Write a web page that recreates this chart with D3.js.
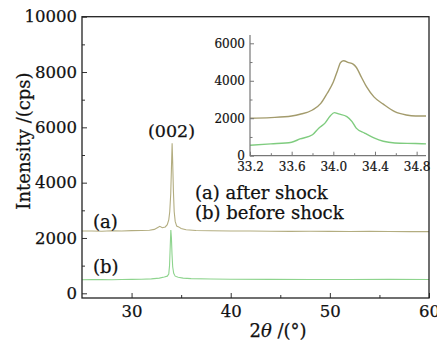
<!DOCTYPE html>
<html>
<head>
<meta charset="utf-8">
<script src="https://cdn.jsdelivr.net/npm/d3@7"></script>
<style>
  html, body { margin: 0; padding: 0; background: #fff; }
  svg { display: block; }
  text { font-family: "DejaVu Serif", serif; fill: #111; }
</style>
</head>
<body>
<svg id="chart" width="437" height="344"></svg>
<script>
// ---- Main pattern data (2θ in degrees, intensity in cps) ----
const afterX  = [25, 26, 27, 28, 29, 30, 31, 31.8, 32.3, 32.6, 32.85, 33.1, 33.4, 33.6, 33.75, 33.85, 33.95, 34.02, 34.09, 34.15, 34.22, 34.3, 34.4, 34.55, 34.75, 35.0, 35.5, 36.5, 38, 40, 42, 44, 46, 48, 50, 52, 54, 56, 58, 60];
const afterY  = [2250, 2255, 2245, 2260, 2250, 2265, 2270, 2280, 2310, 2370, 2420, 2370, 2400, 2480, 2650, 2950, 3600, 4500, 5420, 4700, 3700, 2950, 2600, 2430, 2400, 2340, 2300, 2270, 2260, 2255, 2250, 2245, 2240, 2245, 2240, 2235, 2240, 2235, 2230, 2230];
const beforeX = [25, 26, 27, 28, 29, 30, 31, 32, 32.8, 33.3, 33.6, 33.75, 33.83, 33.9, 33.96, 34.02, 34.08, 34.15, 34.25, 34.4, 34.7, 35.2, 36, 38, 40, 44, 48, 52, 56, 60];
const beforeY = [490, 495, 500, 490, 500, 505, 510, 520, 550, 590, 620, 700, 1000, 1700, 2290, 2000, 1400, 950, 720, 620, 580, 550, 530, 515, 510, 505, 500, 500, 505, 500];

// ---- Inset (zoom of the (002) peak) ----
const insetAfterX  = [33.2, 33.4, 33.6, 33.68, 33.8, 33.88, 33.94, 34.0, 34.04, 34.07, 34.1, 34.14, 34.19, 34.22, 34.27, 34.32, 34.39, 34.48, 34.59, 34.7, 34.79, 34.89];
const insetAfterY  = [2000, 2035, 2120, 2210, 2440, 2790, 3320, 3930, 4540, 4980, 5070, 4980, 4890, 4720, 4190, 3670, 3140, 2750, 2350, 2175, 2120, 2120];
const insetBeforeX = [33.2, 33.4, 33.6, 33.68, 33.8, 33.86, 33.92, 33.97, 34.01, 34.05, 34.13, 34.18, 34.22, 34.3, 34.39, 34.48, 34.59, 34.79, 34.89];
const insetBeforeY = [560, 630, 720, 895, 1120, 1470, 1740, 2120, 2300, 2230, 2090, 1820, 1470, 1210, 950, 770, 680, 650, 630];

// ---- Tick values ----
const mainXTicks = [30, 40, 50, 60];
const mainXMinor = [35, 45, 55];
const mainYTicks = [0, 2000, 4000, 6000, 8000, 10000];
const mainYMinor = [1000, 3000, 5000, 7000, 9000];
const insetXTicks = [33.2, 33.6, 34.0, 34.4, 34.8];
const insetXMinor = [33.4, 33.8, 34.2, 34.6];
const insetYTicks = [0, 2000, 4000, 6000];
const insetYMinor = [1000, 3000, 5000];

const svg = d3.select("#chart");

// Main frame
const L = 82, R = 429, T = 16.7, B = 298;
const x = d3.scaleLinear().domain([25, 60]).range([L, R]);
const y = d3.scaleLinear().domain([0, 10000]).range([293.3, T]);

const colA = "#b3ad80", colB = "#8ed48e";
const line = d3.line().x(d => x(d[0])).y(d => y(d[1]));

svg.append("path").datum(d3.zip(afterX, afterY))
  .attr("d", line).attr("fill", "none").attr("stroke", colA).attr("stroke-width", 1.1);
svg.append("path").datum(d3.zip(beforeX, beforeY))
  .attr("d", line).attr("fill", "none").attr("stroke", colB).attr("stroke-width", 1.1);

// Axes (inward ticks)
function styleAxis(g, fs) {
  g.select(".domain").remove();
  g.selectAll(".tick line").attr("stroke", "#333").attr("stroke-width", 1);
  g.selectAll("text").style("font-size", fs + "px").style("font-family", "DejaVu Serif, serif")
    .attr("fill", "#111").attr("stroke", "#111").attr("stroke-width", 0.25);
}
svg.append("g").attr("transform", `translate(0,${B})`)
  .call(d3.axisBottom(x).tickValues(mainXTicks).tickFormat(d3.format("d")).tickSize(-5).tickPadding(7))
  .call(g => styleAxis(g, 16.5));
svg.append("g").attr("transform", `translate(0,${B})`)
  .call(d3.axisBottom(x).tickValues(mainXMinor).tickFormat("").tickSize(-3))
  .call(g => styleAxis(g, 16));
svg.append("g").attr("transform", `translate(${L},0)`)
  .call(d3.axisLeft(y).tickValues(mainYTicks).tickFormat(d3.format("d")).tickSize(-5).tickPadding(5))
  .call(g => styleAxis(g, 16.5));
svg.append("g").attr("transform", `translate(${L},0)`)
  .call(d3.axisLeft(y).tickValues(mainYMinor).tickFormat("").tickSize(-3))
  .call(g => styleAxis(g, 16));

svg.append("rect").attr("x", L).attr("y", T).attr("width", R - L).attr("height", B - T)
  .attr("fill", "none").attr("stroke", "#222").attr("stroke-width", 1.3);

// Axis titles
function heavy(sel) { return sel.attr("stroke", "#111").attr("stroke-width", 0.25); }
heavy(svg.append("text").attr("transform", "translate(30,141) rotate(-90)")
  .attr("text-anchor", "middle").style("font-size", "18px").text("Intensity /(cps)"));
const xt = heavy(svg.append("text").attr("x", 278).attr("y", 337).attr("text-anchor", "middle").style("font-size", "18px"));
xt.append("tspan").text("2");
xt.append("tspan").style("font-style", "italic").text("θ");
xt.append("tspan").text(" /(°)");

// Annotations
heavy(svg.append("text").attr("x", 171.5).attr("y", 137).attr("text-anchor", "middle").style("font-size", "17.5px").text("(002)"));
heavy(svg.append("text").attr("x", 93).attr("y", 228).style("font-size", "18px").text("(a)"));
heavy(svg.append("text").attr("x", 93).attr("y", 273).style("font-size", "18px").text("(b)"));
heavy(svg.append("text").attr("x", 195).attr("y", 199).style("font-size", "18px").text("(a) after shock"));
heavy(svg.append("text").attr("x", 195).attr("y", 219).style("font-size", "18px").text("(b) before shock"));

// ---- Inset ----
const iL = 250, iR = 426, iT = 35, iB = 155.7;
const ix = d3.scaleLinear().domain([33.2, 34.89]).range([iL, iR]);
const iy = d3.scaleLinear().domain([0, 6000]).range([iB, 43.3]);
const iline = d3.line().curve(d3.curveMonotoneX).x(d => ix(d[0])).y(d => iy(d[1]));

svg.append("path").datum(d3.zip(insetAfterX, insetAfterY))
  .attr("d", iline).attr("fill", "none").attr("stroke", "#a39b6c").attr("stroke-width", 1.4);
svg.append("path").datum(d3.zip(insetBeforeX, insetBeforeY))
  .attr("d", iline).attr("fill", "none").attr("stroke", "#7fcc7f").attr("stroke-width", 1.4);

function styleInset(g) {
  g.select(".domain").remove();
  g.selectAll(".tick line").attr("stroke", "#777").attr("stroke-width", 1);
  g.selectAll("text").style("font-size", "12px").style("font-family", "DejaVu Serif, serif")
    .attr("fill", "#111").attr("stroke", "#111").attr("stroke-width", 0.2);
}
svg.append("g").attr("transform", `translate(0,${iB})`)
  .call(d3.axisBottom(ix).tickValues(insetXTicks).tickFormat(d3.format(".1f")).tickSize(-4).tickPadding(7))
  .call(styleInset);
svg.append("g").attr("transform", `translate(0,${iB})`)
  .call(d3.axisBottom(ix).tickValues(insetXMinor).tickFormat("").tickSize(-2.5))
  .call(styleInset);
svg.append("g").attr("transform", `translate(${iL},0)`)
  .call(d3.axisLeft(iy).tickValues(insetYTicks).tickFormat(d3.format("d")).tickSize(-4).tickPadding(5))
  .call(styleInset);
svg.append("g").attr("transform", `translate(${iL},0)`)
  .call(d3.axisLeft(iy).tickValues(insetYMinor).tickFormat("").tickSize(-2.5))
  .call(styleInset);
svg.append("path").attr("d", `M${iL},${iT}V${iB}H${iR}`)
  .attr("fill", "none").attr("stroke", "#777").attr("stroke-width", 1.2);
</script>
</body>
</html>
